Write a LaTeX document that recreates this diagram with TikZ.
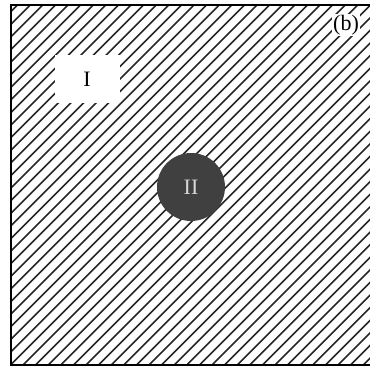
\documentclass[tikz,border=0pt]{standalone}
\usepackage{fontspec}
\setmainfont{Liberation Serif}
\usepackage{tikz}
\definecolor{inclusion}{HTML}{404040}
\definecolor{incltext}{HTML}{D8D8D8}

\begin{document}
\begin{tikzpicture}[x=1pt, y=-1pt, every node/.style={font=\fontsize{22}{24}\selectfont},
    hatch/.style={line width=1.6pt, black!85},
    frame/.style={line width=2pt, black}]
    \useasboundingbox (0,0) rectangle (370,367);
    % matrix with diagonal hatching
    \begin{scope}
      \clip (11,5) rectangle (375,365);
      \foreach \c in {10,22.6,...,760}
        \draw[hatch] (\c,0) -- (\c-400,400);
    \end{scope}
    \node[fill=white, minimum width=65pt, minimum height=48pt] (regI) at (87,79) {I};
    \node[circle, fill=inclusion, text=incltext, minimum size=68pt, inner sep=0pt] (regII) at (191,187) {II};
    \node[fill=white, inner sep=1pt] (lbl) at (346,25) {(b)};
    \draw[frame] (375,5) -- (11,5) -- (11,365) -- (375,365);
  \end{tikzpicture}
\end{document}
